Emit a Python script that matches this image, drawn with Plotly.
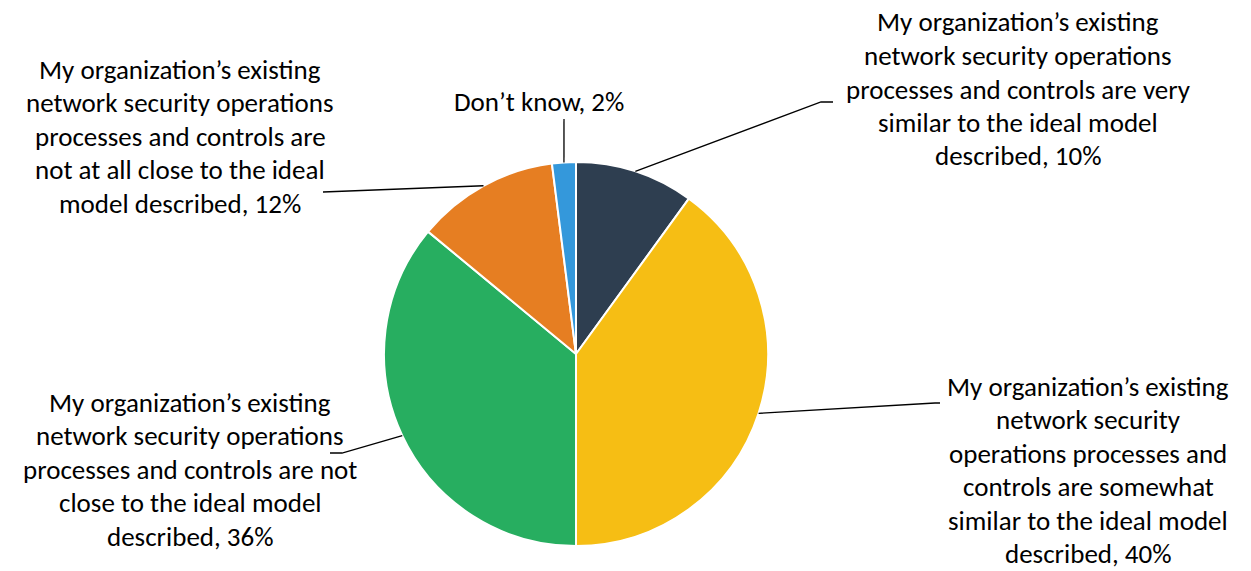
import math
import plotly.graph_objects as go

W, H = 1251, 571

# Data
categories = [
    "My organization’s existing\nnetwork security operations\nprocesses and controls are very\nsimilar to the ideal model\ndescribed",
    "My organization’s existing\nnetwork security\noperations processes and\ncontrols are somewhat\nsimilar to the ideal model\ndescribed",
    "My organization’s existing\nnetwork security operations\nprocesses and controls are not\nclose to the ideal model\ndescribed",
    "My organization’s existing\nnetwork security operations\nprocesses and controls are\nnot at all close to the ideal\nmodel described",
    "Don’t know",
]
values = [10, 40, 36, 12, 2]
colors = ["#2E3E50", "#F6BE14", "#27AE60", "#E67E22", "#3498DB"]

# Layout (pixels)
cx, cy, R = 576, 354, 192
# label block anchor (center x, first line y) in pixels
label_pos = [(1018, 22), (1088, 386), (190, 402), (180, 69), (539, 102)]
# leader line bend points (pixels) after leaving the slice edge
leader_pts = [
    [(821, 102), (833, 102)],
    [(935, 403), (940, 403)],
    [(342, 453), (330, 453)],
    [(323, 192)],
    [(564, 119)],
]
line_h = 33.5
FONT = "Calibri, Carlito, Lato, sans-serif"
FS = 27

def px(x):
    return x / W

def py(y):
    return 1 - y / H

fig = go.Figure(go.Pie(
    labels=[c.replace("\n", " ") for c in categories],
    values=values,
    sort=False,
    direction="clockwise",
    rotation=0,
    marker=dict(colors=colors, line=dict(color="white", width=2)),
    textinfo="none",
    hoverinfo="label+percent",
    showlegend=False,
    domain=dict(x=[px(cx - R), px(cx + R)], y=[py(cy + R), py(cy - R)]),
))

total = sum(values)
annotations = []
shapes = []
cum = 0
for i, v in enumerate(values):
    mid = (cum + v / 2) / total * 2 * math.pi
    cum += v
    sx = cx + R * math.sin(mid)
    sy = cy - R * math.cos(mid)
    pts = [(sx, sy)] + leader_pts[i]
    path = "M " + " L ".join(f"{px(x):.5f},{py(y):.5f}" for x, y in pts)
    shapes.append(dict(type="path", xref="paper", yref="paper", path=path,
                       line=dict(color="black", width=1.3)))
    lines = categories[i].split("\n")
    lines[-1] = lines[-1] + f", {v}%"
    lx, ly = label_pos[i]
    for j, t in enumerate(lines):
        annotations.append(dict(
            x=px(lx), y=py(ly + j * line_h), xref="paper", yref="paper",
            text=t, showarrow=False, xanchor="center", yanchor="middle",
            borderpad=0,
            font=dict(family=FONT, size=FS, color="#000000"),
        ))

fig.update_layout(
    width=W, height=H,
    margin=dict(l=0, r=0, t=0, b=0),
    paper_bgcolor="white",
    plot_bgcolor="white",
    annotations=annotations,
    shapes=shapes,
)

fig.write_html("out.html")
